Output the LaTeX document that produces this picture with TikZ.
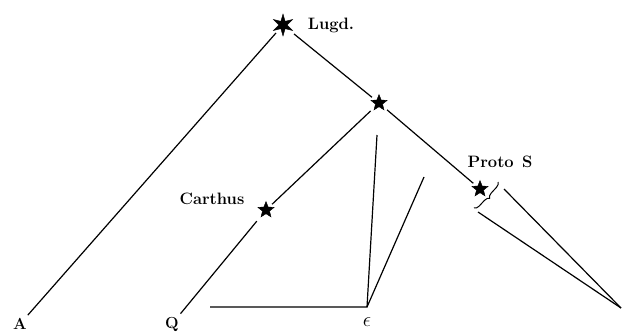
\documentclass[tikz,border=0pt]{standalone}
\usepackage{fontspec}
\usetikzlibrary{shapes.geometric,decorations.pathreplacing}
\begin{document}
\begin{tikzpicture}[x=1pt, y=-1pt,
    lbl/.style={font=\fontsize{16.5}{19}\selectfont\bfseries, inner sep=1pt},
    leaf/.style={font=\fontsize{16}{18}\selectfont\bfseries, inner sep=3pt},
    sstar/.style={star, star points=5, star point ratio=2.3, fill, draw,
                  minimum size=17pt, inner sep=0pt, outer sep=3pt},
    astk/.style={star, star points=6, star point ratio=2.6, fill, draw,
                 minimum size=22pt, inner sep=0pt, outer sep=3pt},
    ln/.style={line width=1.2pt}]
  \useasboundingbox (0,0) rectangle (623,332);
  % archetypes
  \node[astk] (lugd) at (283,25) {};
  \node[lbl] (lugdlbl) at (331,25) {Lugd.};
  \node[sstar] (mid) at (379,103) {};
  \node[sstar] (carth) at (266,210) {};
  \node[lbl] (carthlbl) at (212,199) {Carthus};
  \node[sstar] (proto) at (480,189) {};
  \node[lbl] (protolbl) at (500,162) {Proto\enspace S};
  % manuscripts
  \node[leaf] (A) at (20,324) {A};
  \node[leaf] (Q) at (172,324) {Q};
  \node[leaf, font=\fontsize{22}{24}\selectfont] (eps) at (367,322) {$\epsilon$};
  \coordinate (R) at (621,308);
  \coordinate (e) at (367,307);
  \coordinate (eh) at (210,307);
  \coordinate (ev) at (377,135);
  \coordinate (es) at (424,177);
  \coordinate (b1) at (498,182);
  \coordinate (b2) at (474,208);
  \draw[ln] (lugd) -- (A);
  \draw[ln] (lugd) -- (mid);
  \draw[ln] (mid) -- (carth) -- (Q);
  \draw[ln] (mid) -- (proto);
  \draw[line width=1pt, decorate, decoration={brace, amplitude=5pt}] (b1) -- (b2);
  \draw[ln] (b1) ++(6,7) -- (R);
  \draw[ln] (b2) ++(4,4) -- (R);
  % epsilon group
  \draw[ln] (eh) -- (e) -- (ev);
  \draw[ln] (e) -- (es);
\end{tikzpicture}
\end{document}
